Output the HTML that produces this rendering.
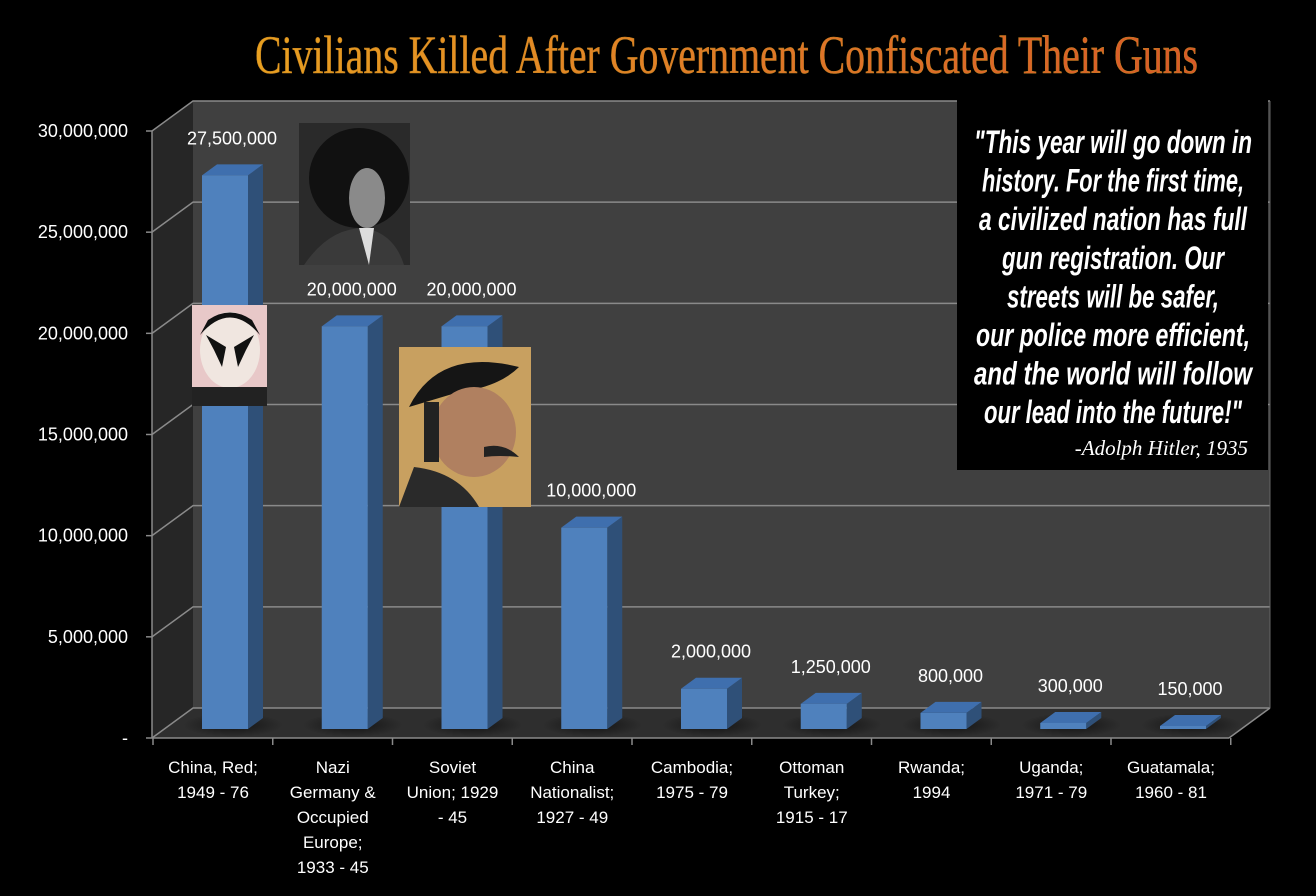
<!DOCTYPE html>
<html><head><meta charset="utf-8"><style>
html,body{margin:0;padding:0;background:#000;}
svg{display:block;}
text{font-family:"Liberation Sans",sans-serif;}
</style></head><body>
<svg id="chart" width="1316" height="896" viewBox="0 0 1316 896" xmlns="http://www.w3.org/2000/svg">
<defs>
<linearGradient id="tg" x1="0" y1="0" x2="1" y2="0">
<stop offset="0" stop-color="#e8a020"/><stop offset="0.5" stop-color="#e07a28"/><stop offset="1" stop-color="#d85a28"/>
</linearGradient>
<radialGradient id="sh" cx="0.5" cy="0.5" r="0.5"><stop offset="0" stop-color="#000" stop-opacity="0.6"/><stop offset="1" stop-color="#000" stop-opacity="0"/></radialGradient>
</defs>
<text x="255" y="73" textLength="943" lengthAdjust="spacingAndGlyphs" font-size="54" fill="url(#tg)" stroke="#c08020" stroke-width="0.6" style="font-family:'Liberation Serif',serif">Civilians Killed After Government Confiscated Their Guns</text>
<g id="plot"></g>
</svg>
<script>
const categories=[["China, Red;","1949 - 76"],["Nazi","Germany &","Occupied","Europe;","1933 - 45"],["Soviet","Union; 1929","- 45"],["China","Nationalist;","1927 - 49"],["Cambodia;","1975 - 79"],["Ottoman","Turkey;","1915 - 17"],["Rwanda;","1994"],["Uganda;","1971 - 79"],["Guatamala;","1960 - 81"]];
const values=[27500000,20000000,20000000,10000000,2000000,1250000,800000,300000,150000];
const valueLabels=["27,500,000","20,000,000","20,000,000","10,000,000","2,000,000","1,250,000","800,000","300,000","150,000"];
const yTicks=[0,5000000,10000000,15000000,20000000,25000000,30000000];
const yTickLabels=["-","5,000,000","10,000,000","15,000,000","20,000,000","25,000,000","30,000,000"];

const NS="http://www.w3.org/2000/svg";
const g=document.getElementById('plot');
function mk(tag,attrs,parent){const e=document.createElementNS(NS,tag);for(const k in attrs)e.setAttribute(k,attrs[k]);(parent||g).appendChild(e);return e;}
const yMax=30000000;
const yFront=v=>738-v/yMax*607;
const yBack=v=>708-v/yMax*607;
const yBar=v=>729-v/yMax*604;
const xCat=i=>153+i*119.75;
const back=mk('rect',{x:193,y:101,width:1077,height:607,fill:'#404040'});

const side=mk('polygon',{points:`152,131 193,101 193,708 152,738`,fill:'#262626'});

const floor=mk('polygon',{points:`193,708 1270,708 1229,738 152,738`,fill:'#2e2e2e'});

const txt={'font-size':18};
yTicks.forEach((v,i)=>{
  const y=yBack(v);
  const gl=mk('polyline',{points:`152,${yFront(v)} 193,${y} 1270,${y}`,fill:'none',stroke:'#8a8a8a','stroke-width':1.5});
  
  const tk=mk('line',{x1:146,x2:152,y1:yFront(v),y2:yFront(v),stroke:'#8a8a8a','stroke-width':1.5});
  
  const t=mk('text',{x:128,y:yFront(v)+6,'text-anchor':'end','font-size':18,fill:'#fff'});
  t.textContent=yTickLabels[i];
  
});
mk('line',{x1:152,y1:131,x2:152,y2:738,stroke:'#8a8a8a','stroke-width':1.5});
mk('line',{x1:152,y1:738,x2:1229,y2:738,stroke:'#8a8a8a','stroke-width':1.5});
mk('line',{x1:1229,y1:738,x2:1270,y2:708,stroke:'#8a8a8a','stroke-width':1.5});
mk('line',{x1:1270,y1:708,x2:1270,y2:101,stroke:'#666','stroke-width':1});
for(let i=0;i<=categories.length;i++){
  const tk=mk('line',{x1:xCat(i),x2:xCat(i),y1:738,y2:745,stroke:'#8a8a8a','stroke-width':1.5});
  
}
values.forEach((v,i)=>{
  const x0=202+i*119.75,w=46,d=15,dd=-11,yb=729,yt=yBar(v);
  mk('ellipse',{cx:x0+w/2+8,cy:yb-4,rx:50,ry:12,fill:'url(#sh)'});
  const bg=mk('g',{});
  
  mk('polygon',{points:`${x0+w},${yt} ${x0+w+d},${yt+dd} ${x0+w+d},${yb+dd} ${x0+w},${yb}`,fill:'#2f5078'},bg);
  mk('polygon',{points:`${x0},${yt} ${x0+d},${yt+dd} ${x0+w+d},${yt+dd} ${x0+w},${yt}`,fill:'#3f6fae'},bg);
  mk('rect',{x:x0,y:yt,width:w,height:yb-yt,fill:'#4f81bd'},bg);
  const lb=mk('text',{x:x0+30,y:yt-31,'text-anchor':'middle','font-size':18,fill:'#fff'});
  lb.textContent=valueLabels[i];
  
  const cl=mk('text',{'text-anchor':'middle','font-size':txt['font-size']-1,fill:'#fff'});
  
  categories[i].forEach((ln,j)=>{const ts=mk('tspan',{x:xCat(i)+60,y:773+j*25},cl);ts.textContent=ln;});
});
function photo(name,x,y,w,h,bgc,face){
  const pg=mk('g',{});
  
  mk('rect',{x,y,width:w,height:h,fill:bgc},pg);
  face(pg,x,y,w,h);
}
photo('mao-photo',192,305,75,101,'#e8c8c8',(p,x,y,w,h)=>{
  mk('ellipse',{cx:x+38,cy:y+45,rx:30,ry:38,fill:'#f0e6e0'},p);
  mk('path',{d:`M${x+8},${y+30} Q${x+38},${y-5} ${x+68},${y+30} L${x+60},${y+15} Q${x+38},${y} ${x+16},${y+15}Z`,fill:'#111'},p);
  mk('polygon',{points:`${x+14},${y+30} ${x+34},${y+42} ${x+30},${y+62} ${x+22},${y+45}`,fill:'#111'},p);
  mk('polygon',{points:`${x+62},${y+30} ${x+42},${y+42} ${x+46},${y+62} ${x+54},${y+45}`,fill:'#111'},p);
  mk('rect',{x:x,y:y+82,width:w,height:19,fill:'#222'},p);
});
photo('hitler-photo',299,123,111,142,'#2a2a2a',(p,x,y,w,h)=>{
  mk('ellipse',{cx:x+60,cy:y+55,rx:50,ry:50,fill:'#111'},p);
  mk('ellipse',{cx:x+68,cy:y+75,rx:18,ry:30,fill:'#8a8a8a'},p);
  mk('path',{d:`M${x+5},${y+h} Q${x+30},${y+105} ${x+65},${y+105} Q${x+95},${y+110} ${x+105},${y+h}Z`,fill:'#3a3a3a'},p);
  mk('polygon',{points:`${x+60},${y+105} ${x+75},${y+105} ${x+70},${y+h}`,fill:'#ddd'},p);
});
photo('stalin-photo',399,347,132,160,'#c8a060',(p,x,y,w,h)=>{
  mk('path',{d:`M${x+10},${y+60} Q${x+40},${y} ${x+120},${y+20} Q${x+100},${y+40} ${x+60},${y+45} Z`,fill:'#151515'},p);
  mk('ellipse',{cx:x+75,cy:y+85,rx:42,ry:45,fill:'#b08060'},p);
  mk('path',{d:`M${x+85},${y+100} Q${x+105},${y+95} ${x+120},${y+110} Q${x+100},${y+108} ${x+85},${y+110}Z`,fill:'#222'},p);
  mk('rect',{x:x+25,y:y+55,width:15,height:60,fill:'#222'},p);
  mk('path',{d:`M${x},${y+h} L${x+15},${y+120} Q${x+60},${y+125} ${x+80},${y+h}Z`,fill:'#2a2a2a'},p);
});
const qb=mk('g',{});

mk('rect',{x:957,y:100,width:311,height:370,fill:'#000'},qb);
const qlines=['"This year will go down in','history. For the first time,','a civilized nation has full','gun registration. Our','streets will be safer,','our police more efficient,','and the world will follow','our lead into the future!"'];
const qw=[278,262,268,222,212,274,278,258];
qlines.forEach((l,j)=>{
  const t=mk('text',{x:1113,y:153+j*38.6,'text-anchor':'middle','font-size':32,'font-weight':'bold','font-style':'italic',fill:'#fff',textLength:qw[j],lengthAdjust:'spacingAndGlyphs'},qb);
  t.textContent=l;
});
const at=mk('text',{x:1248,y:455,'text-anchor':'end','font-size':21,'font-style':'italic',fill:'#fff',style:"font-family:'Liberation Serif',serif"},qb);
at.textContent='-Adolph Hitler, 1935';
</script>
</body></html>
